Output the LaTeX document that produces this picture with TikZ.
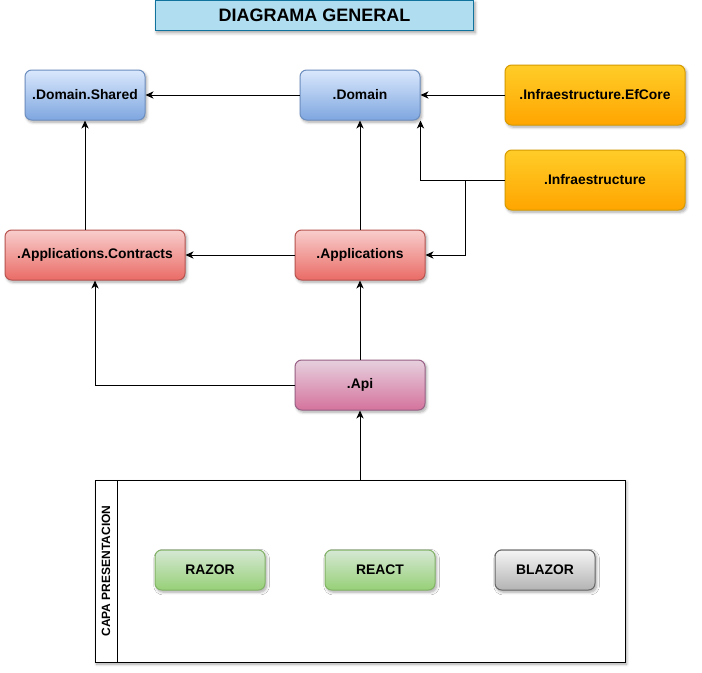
\documentclass[tikz,border=0pt]{standalone}
\usepackage{fontspec}
\setmainfont{Liberation Sans}
\usepackage{tikz}
\usetikzlibrary{arrows.meta,positioning,calc,shadows.blur}
\definecolor{domtop}{HTML}{DAE8FC}
\definecolor{dombot}{HTML}{7EA6E0}
\definecolor{domline}{HTML}{6C8EBF}
\definecolor{inftop}{HTML}{FFCD28}
\definecolor{infbot}{HTML}{FFA500}
\definecolor{infline}{HTML}{D79B00}
\definecolor{apptop}{HTML}{F8CECC}
\definecolor{appbot}{HTML}{EA6B66}
\definecolor{appline}{HTML}{B85450}
\definecolor{apitop}{HTML}{E6D0DE}
\definecolor{apibot}{HTML}{D5739D}
\definecolor{apiline}{HTML}{996185}
\definecolor{uitop}{HTML}{D5E8D4}
\definecolor{uibot}{HTML}{97D077}
\definecolor{uiline}{HTML}{82B366}
\definecolor{graytop}{HTML}{F5F5F5}
\definecolor{graybot}{HTML}{B3B3B3}
\definecolor{grayline}{HTML}{666666}
\definecolor{titlefill}{HTML}{B1DDF0}
\definecolor{titleline}{HTML}{10739E}
\tikzset{
  layerbox/.style={rounded corners=5pt, line width=0.75pt, inner sep=0pt,
    font=\bfseries\fontsize{10.4}{12}\selectfont,
    blur shadow={shadow xshift=1.2pt, shadow yshift=-1.6pt, shadow blur steps=6, shadow opacity=35}},
  dombox/.style={layerbox, draw=domline, top color=domtop, bottom color=dombot},
  infbox/.style={layerbox, draw=infline, top color=inftop, bottom color=infbot},
  appbox/.style={layerbox, draw=appline, top color=apptop, bottom color=appbot},
  apibox/.style={layerbox, draw=apiline, top color=apitop, bottom color=apibot},
  uibox/.style={layerbox, draw=uiline, top color=uitop, bottom color=uibot},
  grbox/.style={layerbox, draw=grayline, top color=graytop, bottom color=graybot},
  depln/.style={-{Stealth[length=2.1mm, width=1.9mm, inset=0.6mm]}, line width=0.75pt},
}

\begin{document}
\begin{tikzpicture}[x=0.75pt, y=-0.75pt]
  \useasboundingbox (0,0) rectangle (702,672);
  % title banner
  \node[draw=titleline, fill=titlefill, line width=0.75pt, minimum width=239pt, minimum height=23pt,
    inner sep=0pt, font=\bfseries\fontsize{13.5}{15}\selectfont,
    blur shadow={shadow xshift=1.2pt, shadow yshift=-1.6pt, shadow blur steps=6, shadow opacity=35}]
    (title) at (314.5,15.5) {DIAGRAMA GENERAL};
  % domain layer
  \node[dombox, minimum width=90pt, minimum height=37.5pt] (shared) at (85,95) {.Domain.Shared};
  \node[dombox, minimum width=90pt, minimum height=37.5pt] (domain) at (360,95) {.Domain};
  % infrastructure
  \node[infbox, minimum width=135pt, minimum height=45pt] (efcore) at (595,95) {.Infraestructure.EfCore};
  \node[infbox, minimum width=135pt, minimum height=45pt] (infra) at (595,180) {.Infraestructure};
  % application layer
  \node[appbox, minimum width=135pt, minimum height=37.5pt] (contracts) at (95,255) {.Applications.Contracts};
  \node[appbox, minimum width=97.5pt, minimum height=37.5pt] (apps) at (360,255) {.Applications};
  % api
  \node[apibox, minimum width=97.5pt, minimum height=37.5pt] (api) at (360,385) {.Api};
  % presentation container
  \node[draw, fill=white, line width=0.75pt, minimum width=397.5pt, minimum height=136.5pt, inner sep=0pt,
    blur shadow={shadow xshift=1.2pt, shadow yshift=-1.6pt, shadow blur steps=6, shadow opacity=35}]
    (capa) at (360,571) {};
  \draw[line width=0.75pt] (117,480) -- (117,662);
  \node[rotate=90, font=\bfseries\fontsize{9}{11}\selectfont] (capalbl) at (106,571) {CAPA PRESENTACION};
  \node[uibox, minimum width=82.5pt, minimum height=30pt] (razor) at (210,570) {RAZOR};
  \node[uibox, minimum width=82.5pt, minimum height=30pt] (react) at (380,570) {REACT};
  \node[grbox, minimum width=75pt, minimum height=30pt] (blazor) at (545,570) {BLAZOR};
  % dependencies
  \draw[depln] (domain.west) -- (shared.east);
  \draw[depln] (efcore.west) -- (domain.east);
  \coordinate (split) at (465,180);
  \draw[depln] (infra.west) -- (domain.south east |- infra.west) -- (domain.south east);
  \draw[depln] (split) |- (apps.east);
  \draw[depln] (apps.north) -- (domain.south);
  \draw[depln] (apps.west) -- (contracts.east);
  \draw[depln] (shared.south |- contracts.north) -- (shared.south);
  \draw[depln] (api.north) -- (apps.south);
  \draw[depln] (api.west) -| (contracts.south);
  \draw[depln] (capa.north) -- (api.south);
\end{tikzpicture}
\end{document}
